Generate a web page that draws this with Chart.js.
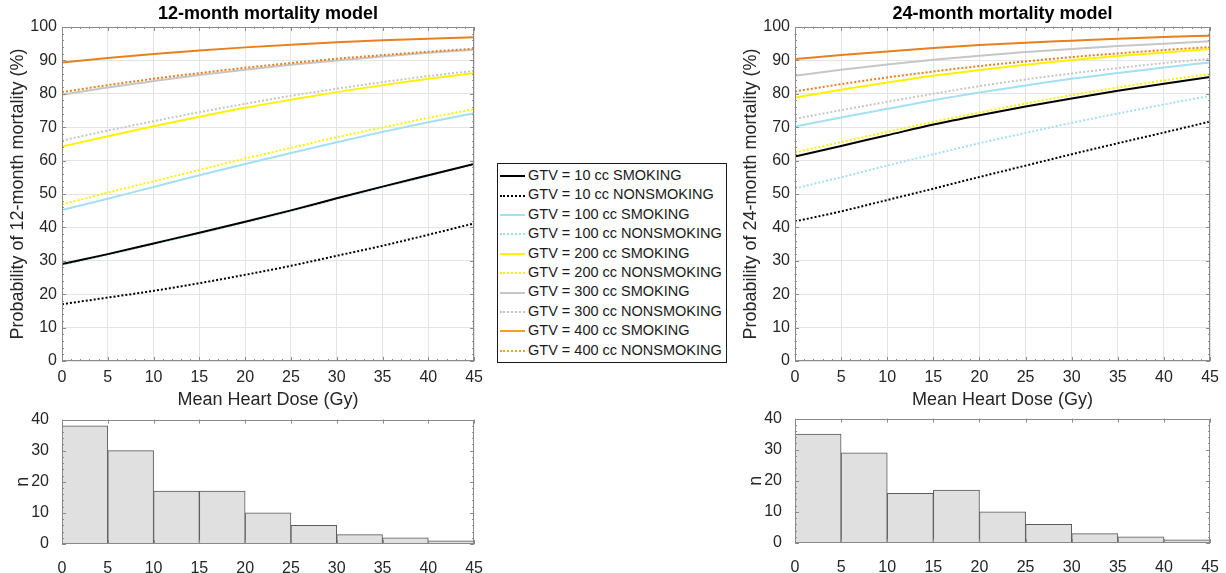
<!DOCTYPE html>
<html>
<head>
<meta charset="utf-8">
<script src="https://cdn.jsdelivr.net/npm/chart.js@4.4.0/dist/chart.umd.min.js"></script>
<style>
  body { margin: 0; background: #fff; width: 1226px; height: 573px; position: relative; overflow: hidden;
         font-family: "Liberation Sans", Arial, sans-serif; }
  canvas { position: absolute; }
  #legend { position: absolute; left: 497px; top: 163px; width: 228px; height: 196px;
            border: 1.5px solid #1a1a1a; background: #fff; padding-top: 2px; box-sizing: content-box; }
  .row { height: 19.4px; line-height: 19.4px; font-size: 14.5px; color: #1a1a1a; white-space: nowrap; }
  .sample { display: inline-block; width: 25px; margin: 0 3px 0 2px; vertical-align: middle; }
</style>
</head>
<body>
<canvas id="line12" width="490" height="414" style="left:0;top:0"></canvas>
<canvas id="line24" width="493" height="414" style="left:733px;top:0"></canvas>
<canvas id="hist12" width="490" height="168" style="left:0;top:405px"></canvas>
<canvas id="hist24" width="493" height="169" style="left:733px;top:404px"></canvas>
<div id="legend"></div>
<script>
// x values (Gy)
const doseGy = [0, 5, 10, 15, 20, 25, 30, 35, 40, 45];

const seriesLabels = [
  "GTV = 10 cc SMOKING", "GTV = 10 cc NONSMOKING",
  "GTV = 100 cc SMOKING", "GTV = 100 cc NONSMOKING",
  "GTV = 200 cc SMOKING", "GTV = 200 cc NONSMOKING",
  "GTV = 300 cc SMOKING", "GTV = 300 cc NONSMOKING",
  "GTV = 400 cc SMOKING", "GTV = 400 cc NONSMOKING"
];

// 12-month model (%)
const m12_10_smk   = [29.0, 32.0, 35.2, 38.4, 41.7, 45.1, 48.7, 52.2, 55.6, 59.0];
const m12_10_non   = [17.0, 19.0, 21.0, 23.3, 25.8, 28.5, 31.5, 34.5, 37.8, 41.2];
const m12_100_smk  = [45.2, 48.6, 52.1, 55.6, 59.0, 62.3, 65.5, 68.6, 71.5, 74.2];
const m12_100_non  = [28.8, 31.8, 35.0, 38.2, 41.5, 44.9, 48.5, 52.0, 55.4, 58.8];
const m12_200_smk  = [64.2, 67.3, 70.3, 73.1, 75.8, 78.2, 80.5, 82.6, 84.5, 86.2];
const m12_200_non  = [46.9, 50.4, 53.8, 57.2, 60.6, 63.8, 67.0, 69.9, 72.8, 75.4];
const m12_300_smk  = [79.7, 81.9, 83.8, 85.6, 87.2, 88.7, 90.0, 91.2, 92.3, 93.2];
const m12_300_non  = [66.0, 69.0, 71.8, 74.5, 77.0, 79.4, 81.5, 83.5, 85.3, 86.9];
const m12_400_smk  = [89.4, 90.7, 91.9, 93.0, 93.9, 94.7, 95.4, 96.0, 96.5, 96.9];
const m12_400_non  = [80.5, 82.6, 84.5, 86.2, 87.8, 89.2, 90.5, 91.6, 92.6, 93.5];

// 24-month model (%)
const m24_10_smk   = [61.2, 64.4, 67.6, 70.8, 73.6, 76.2, 78.6, 80.9, 83.0, 85.0];
const m24_10_non   = [41.8, 44.8, 48.2, 51.6, 55.1, 58.5, 61.9, 65.2, 68.4, 71.7];
const m24_100_smk  = [70.2, 72.9, 75.5, 78.1, 80.4, 82.5, 84.5, 86.2, 87.9, 89.4];
const m24_100_non  = [51.7, 55.0, 58.5, 61.9, 65.2, 68.3, 71.3, 74.1, 76.8, 79.4];
const m24_200_smk  = [78.9, 81.2, 83.4, 85.4, 87.1, 88.7, 90.1, 91.3, 92.4, 93.4];
const m24_200_non  = [62.5, 65.5, 68.6, 71.6, 74.4, 77.1, 79.6, 81.9, 84.0, 85.9];
const m24_300_smk  = [85.4, 87.2, 88.8, 90.2, 91.4, 92.5, 93.4, 94.3, 95.0, 95.7];
const m24_300_non  = [72.5, 75.1, 77.6, 80.0, 82.3, 84.3, 86.1, 87.7, 89.2, 90.5];
const m24_400_smk  = [90.4, 91.6, 92.7, 93.7, 94.6, 95.3, 95.9, 96.5, 97.0, 97.4];
const m24_400_non  = [80.7, 82.9, 84.9, 86.7, 88.3, 89.7, 91.0, 92.1, 93.1, 94.0];

// histogram of mean heart dose
const binEdges = [0, 5, 10, 15, 20, 25, 30, 35, 40, 45];
const counts12 = [38, 30, 17, 17, 10, 6, 3, 2, 1];
const counts24 = [35, 29, 16, 17, 10, 6, 3, 2, 1];

const FONT = "'Liberation Sans', Arial, sans-serif";
const TXT = "#262626";
const colors = ["#000000", "#000000", "#a3dff5", "#a3dff5", "#fff200", "#fff200",
                "#c6c6c6", "#c6c6c6", "#e8801e", "#e8801e"];
const dotted = [false, true, false, true, false, true, false, true, false, true];

// MATLAB-like box with inward ticks
const boxPlugin = {
  id: "box",
  afterDraw(chart, args, opts) {
    const {ctx, chartArea: a, scales: {x, y}} = chart;
    ctx.save();
    ctx.strokeStyle = "#8a8a8a";
    ctx.lineWidth = 1;
    ctx.beginPath();
    for (let v = x.min; v <= x.max + 1e-9; v += opts.xMinor) {
      const px = Math.round(x.getPixelForValue(v)) + 0.5;
      const len = Math.abs(v % opts.xMajor) < 1e-9 ? 4 : 2;
      ctx.moveTo(px, a.bottom); ctx.lineTo(px, a.bottom - len);
      ctx.moveTo(px, a.top); ctx.lineTo(px, a.top + len);
    }
    for (let v = y.min; v <= y.max + 1e-9; v += opts.yMinor) {
      const py = Math.round(y.getPixelForValue(v)) + 0.5;
      const len = Math.abs(v % opts.yMajor) < 1e-9 ? 4 : 2;
      ctx.moveTo(a.left, py); ctx.lineTo(a.left + len, py);
      ctx.moveTo(a.right, py); ctx.lineTo(a.right - len, py);
    }
    ctx.stroke();
    ctx.strokeRect(Math.round(a.left) + 0.5, Math.round(a.top) + 0.5,
                   Math.round(a.width) - 1, Math.round(a.height) - 1);
    ctx.restore();
  }
};

function lineChart(id, title, yTitle, series) {
  const datasets = series.map((vals, i) => ({
    label: seriesLabels[i],
    data: vals.map((v, j) => ({x: doseGy[j], y: v})),
    borderColor: colors[i],
    borderWidth: 2,
    borderDash: dotted[i] ? [2, 2] : [],
    pointRadius: 0,
    cubicInterpolationMode: "monotone",
    order: i === 0 ? -1 : 10 - i
  }));
  return new Chart(document.getElementById(id), {
    type: "line",
    data: {datasets},
    plugins: [boxPlugin],
    options: {
      responsive: false,
      animation: false,
      layout: {padding: {right: 14}},
      plugins: {
        legend: {display: false},
        tooltip: {enabled: false},
        title: {display: true, text: title, fullSize: false, color: "#000",
                font: {family: FONT, size: 18, weight: "bold"}, padding: {top: 3.7, bottom: 1.7}},
        box: {xMinor: 1, xMajor: 5, yMinor: 2, yMajor: 10}
      },
      scales: {
        x: {
          type: "linear", min: 0, max: 45,
          ticks: {stepSize: 5, color: TXT, font: {family: FONT, size: 16}, padding: 7, maxRotation: 0},
          grid: {color: "#e4e4e4", drawTicks: false},
          border: {display: false},
          title: {display: true, text: "Mean Heart Dose (Gy)", color: TXT,
                  font: {family: FONT, size: 18}, padding: {top: 0, bottom: 2.7}},
          afterFit: s => { s.height = 53; }
        },
        y: {
          min: 0, max: 100,
          ticks: {stepSize: 10, color: TXT, font: {family: FONT, size: 16}, padding: 5},
          grid: {color: "#e4e4e4", drawTicks: false},
          border: {display: false},
          title: {display: true, text: yTitle, color: TXT,
                  font: {family: FONT, size: 18}, padding: {top: 7, bottom: 0}},
          afterFit: s => { s.width = 62; }
        }
      }
    }
  });
}

function histChart(id, counts, bottomH) {
  const data = counts.map((c, i) => ({x: (binEdges[i] + binEdges[i + 1]) / 2, y: c}));
  return new Chart(document.getElementById(id), {
    type: "bar",
    data: {datasets: [{data, backgroundColor: "#e0e0e0", borderColor: "#5a5a5a", borderWidth: 1,
                       barPercentage: 1, categoryPercentage: 1}]},
    plugins: [boxPlugin],
    options: {
      responsive: false,
      animation: false,
      layout: {padding: {top: 13, right: 14}},
      plugins: {
        legend: {display: false},
        tooltip: {enabled: false},
        box: {xMinor: 5, xMajor: 5, yMinor: 2, yMajor: 10}
      },
      scales: {
        x: {
          type: "linear", min: 0, max: 45, offset: false,
          ticks: {stepSize: 5, color: TXT, font: {family: FONT, size: 16}, padding: 7, maxRotation: 0},
          grid: {display: false},
          border: {display: false},
          afterFit: s => { s.height = bottomH; }
        },
        y: {
          min: 0, max: 40,
          ticks: {stepSize: 10, color: TXT, font: {family: FONT, size: 16}, padding: 5},
          grid: {display: false},
          border: {display: false},
          title: {display: true, text: "n", color: TXT, font: {family: FONT, size: 18}, padding: {top: 12, bottom: 0}},
          afterFit: s => { s.width = 62; }
        }
      }
    }
  });
}

lineChart("line12", "12-month mortality model", "Probability of 12-month mortality (%)",
  [m12_10_smk, m12_10_non, m12_100_smk, m12_100_non, m12_200_smk,
   m12_200_non, m12_300_smk, m12_300_non, m12_400_smk, m12_400_non]);
lineChart("line24", "24-month mortality model", "Probability of 24-month mortality (%)",
  [m24_10_smk, m24_10_non, m24_100_smk, m24_100_non, m24_200_smk,
   m24_200_non, m24_300_smk, m24_300_non, m24_400_smk, m24_400_non]);
histChart("hist12", counts12, 29);
histChart("hist24", counts24, 30);

// shared legend box between the two panels
const legend = document.getElementById("legend");
seriesLabels.forEach((lab, i) => {
  const row = document.createElement("div");
  row.className = "row";
  const s = document.createElement("span");
  s.className = "sample";
  s.style.borderTop = "2px " + (dotted[i] ? "dotted " : "solid ") + (i >= 8 ? "#efa02a" : colors[i]);
  row.appendChild(s);
  row.appendChild(document.createTextNode(lab));
  legend.appendChild(row);
});
</script>
</body>
</html>
